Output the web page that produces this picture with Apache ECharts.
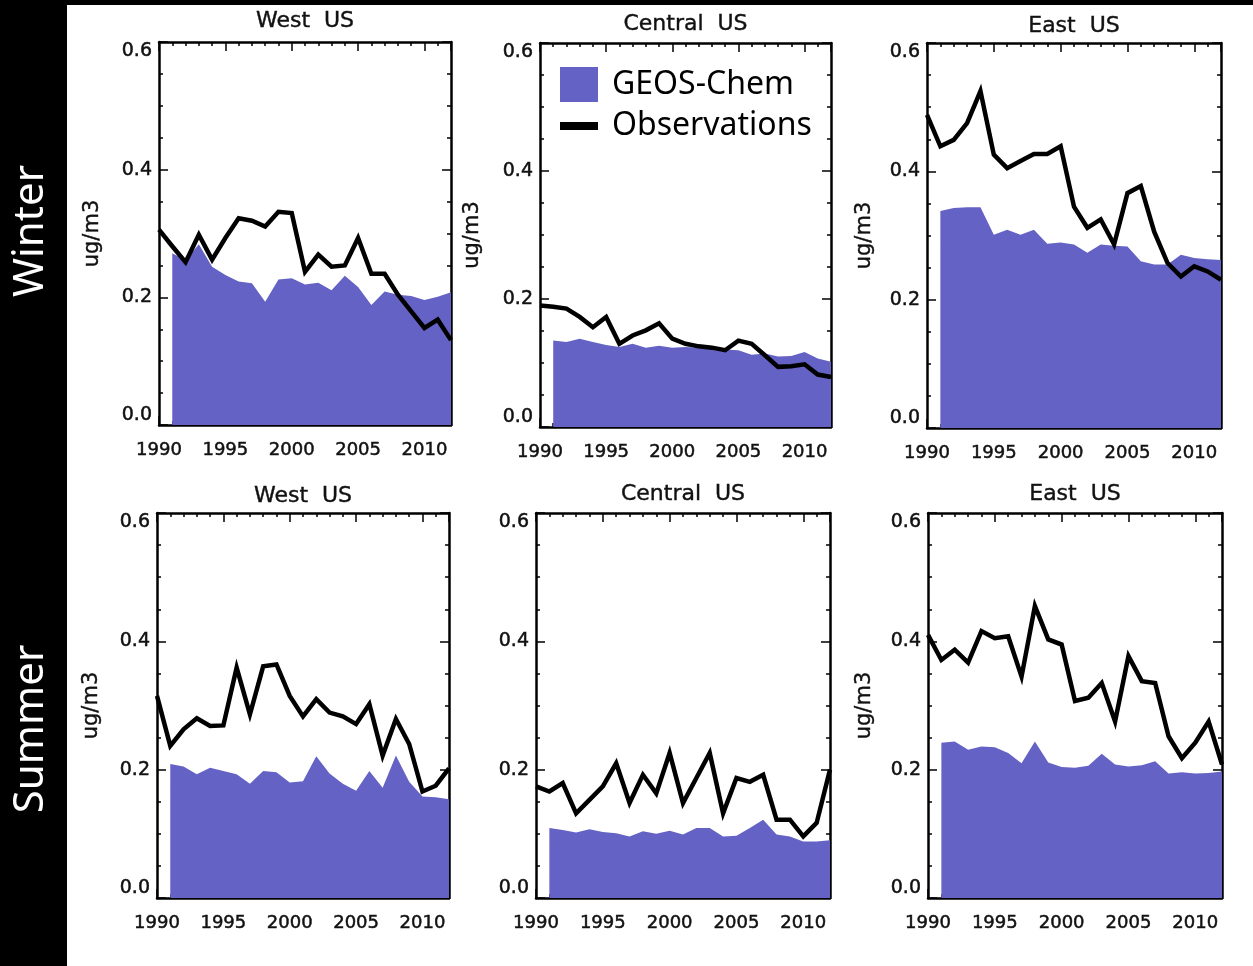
<!DOCTYPE html>
<html><head><meta charset="utf-8">
<script src="https://cdn.jsdelivr.net/npm/echarts@6/dist/echarts.min.js"></script>
<style>html,body{margin:0;padding:0;background:#fff;}#c{width:1253px;height:966px;}</style>
</head><body><div id="c"></div>
<script>
// ---------------- data ----------------
const years = [1990,1991,1992,1993,1994,1995,1996,1997,1998,1999,2000,2001,2002,2003,2004,2005,2006,2007,2008,2009,2010,2011,2012];
const modelYears = [1991,1992,1993,1994,1995,1996,1997,1998,1999,2000,2001,2002,2003,2004,2005,2006,2007,2008,2009,2010,2011,2012];
const regionTitles = ['West  US', 'Central  US', 'East  US'];
const seasonLabels = ['Winter', 'Summer'];
const legendNames = ['GEOS-Chem', 'Observations'];
const unitLabel = 'ug/m3';

const winterWestObs   = [0.306,0.280,0.255,0.298,0.259,0.293,0.324,0.320,0.311,0.334,0.332,0.240,0.267,0.248,0.250,0.293,0.237,0.237,0.204,0.178,0.152,0.165,0.133];
const winterWestModel = [0.269,0.258,0.283,0.248,0.235,0.225,0.222,0.193,0.228,0.230,0.220,0.223,0.211,0.234,0.216,0.188,0.209,0.204,0.202,0.196,0.201,0.208];

const winterCentralObs   = [0.190,0.188,0.185,0.172,0.156,0.172,0.130,0.143,0.151,0.162,0.138,0.130,0.126,0.124,0.120,0.135,0.130,0.112,0.094,0.095,0.098,0.082,0.078];
const winterCentralModel = [0.135,0.133,0.138,0.133,0.128,0.125,0.130,0.124,0.127,0.124,0.125,0.124,0.122,0.121,0.120,0.113,0.115,0.110,0.111,0.117,0.107,0.102];

const winterEastObs   = [0.488,0.439,0.449,0.475,0.525,0.426,0.405,0.416,0.427,0.427,0.439,0.345,0.312,0.325,0.286,0.366,0.377,0.306,0.257,0.236,0.252,0.244,0.231];
const winterEastModel = [0.338,0.343,0.344,0.344,0.301,0.309,0.301,0.309,0.287,0.289,0.286,0.273,0.286,0.284,0.283,0.260,0.255,0.255,0.270,0.265,0.263,0.262];

const summerWestObs   = [0.315,0.237,0.263,0.280,0.268,0.269,0.359,0.286,0.361,0.364,0.315,0.283,0.310,0.289,0.283,0.271,0.302,0.222,0.279,0.240,0.166,0.175,0.202];
const summerWestModel = [0.209,0.205,0.193,0.203,0.198,0.193,0.178,0.198,0.196,0.180,0.182,0.221,0.194,0.178,0.167,0.198,0.172,0.222,0.181,0.158,0.157,0.154];

const summerCentralObs   = [0.174,0.166,0.179,0.132,0.153,0.174,0.210,0.148,0.192,0.163,0.226,0.148,0.187,0.226,0.132,0.187,0.181,0.192,0.122,0.122,0.096,0.117,0.200];
const summerCentralModel = [0.109,0.106,0.102,0.107,0.103,0.101,0.096,0.104,0.100,0.105,0.099,0.109,0.109,0.096,0.097,0.109,0.122,0.099,0.096,0.088,0.088,0.090];

const summerEastObs   = [0.410,0.371,0.387,0.367,0.416,0.405,0.408,0.345,0.455,0.403,0.395,0.307,0.312,0.335,0.275,0.377,0.338,0.335,0.252,0.218,0.242,0.275,0.208];
const summerEastModel = [0.242,0.244,0.231,0.236,0.235,0.226,0.210,0.244,0.211,0.204,0.203,0.206,0.225,0.208,0.205,0.207,0.213,0.194,0.196,0.194,0.195,0.197];

// ---------------- layout / style ----------------
const FILL = '#6562C5';
const panels = [
  {title: regionTitles[0], obs: winterWestObs,    model: winterWestModel,    left: 159, top: 42,  width: 292, height: 383, tTop: 10,  showName: true,  nameGap: 56},
  {title: regionTitles[1], obs: winterCentralObs, model: winterCentralModel, left: 540, top: 43,  width: 291, height: 384, tTop: 13,  showName: true,  nameGap: 57},
  {title: regionTitles[2], obs: winterEastObs,    model: winterEastModel,    left: 927, top: 43,  width: 294, height: 385, tTop: 15,  showName: true,  nameGap: 52},
  {title: regionTitles[0], obs: summerWestObs,    model: summerWestModel,    left: 157, top: 513, width: 292, height: 385, tTop: 485, showName: true,  nameGap: 55},
  {title: regionTitles[1], obs: summerCentralObs, model: summerCentralModel, left: 536, top: 513, width: 294, height: 385, tTop: 483, showName: false, nameGap: 55},
  {title: regionTitles[2], obs: summerEastObs,    model: summerEastModel,    left: 928, top: 513, width: 294, height: 385, tTop: 483, showName: true,  nameGap: 53}
];

const AX = {color: '#000', width: 2.5};
const LABEL_FONT = 'DejaVu Sans';
const TXT = '#111';

const grid = [], xAxis = [], yAxis = [], series = [], title = [];
panels.forEach((p, i) => {
  grid.push({left: p.left, top: p.top, width: p.width, height: p.height, containLabel: false});
  title.push({
    text: p.title, left: p.left + p.width / 2, top: p.tTop, textAlign: 'center', padding: 0,
    textStyle: {fontFamily: LABEL_FONT, fontSize: 22, fontWeight: 'normal', color: TXT, textBorderColor: TXT, textBorderWidth: 0.4}
  });
  const xCommon = {
    type: 'value', gridIndex: i, min: 1990, max: 2012, interval: 5,
    axisLine: {show: true, onZero: false, lineStyle: AX},
    axisTick: {show: true, inside: true, length: 9, lineStyle: {color: '#000', width: 1.5}},
    minorTick: {show: true, splitNumber: 5, length: 4, lineStyle: {color: '#000', width: 1.5}},
    splitLine: {show: false}
  };
  xAxis.push(Object.assign({}, xCommon, {
    position: 'bottom',
    axisLabel: {show: true, margin: 16, showMaxLabel: false, fontFamily: LABEL_FONT, fontSize: 18, color: TXT,
      textBorderColor: TXT, textBorderWidth: 0.5,
      formatter: v => (v % 5 === 0 ? String(v) : '')}
  }));
  xAxis.push(Object.assign({}, xCommon, {position: 'top', axisLabel: {show: false}}));
  const yCommon = {
    type: 'value', gridIndex: i, min: 0, max: 0.6, interval: 0.2,
    axisLine: {show: true, onZero: false, lineStyle: AX},
    axisTick: {show: true, inside: true, length: 9, lineStyle: {color: '#000', width: 1.5}},
    minorTick: {show: true, splitNumber: 4, length: 4, lineStyle: {color: '#000', width: 1.5}},
    splitLine: {show: false}
  };
  yAxis.push(Object.assign({}, yCommon, {
    position: 'left',
    name: p.showName ? unitLabel : '', nameLocation: 'middle', nameRotate: 90, nameGap: p.nameGap,
    nameTextStyle: {fontFamily: LABEL_FONT, fontSize: 21, color: TXT, textBorderColor: TXT, textBorderWidth: 0.4},
    axisLabel: {show: true, margin: 7, fontFamily: LABEL_FONT, fontSize: 19, color: TXT,
      textBorderColor: TXT, textBorderWidth: 0.5,
      verticalAlignMinLabel: 'bottom', verticalAlignMaxLabel: 'top',
      formatter: v => v.toFixed(1)}
  }));
  yAxis.push(Object.assign({}, yCommon, {position: 'right', axisLabel: {show: false}}));

  series.push({
    name: legendNames[0], type: 'line', xAxisIndex: 2 * i, yAxisIndex: 2 * i,
    data: modelYears.map((y, k) => [y, p.model[k]]),
    symbol: 'none', lineStyle: {width: 0}, itemStyle: {color: FILL},
    areaStyle: {color: FILL, opacity: 1}, z: 2, silent: true
  });
  series.push({
    name: legendNames[1], type: 'line', xAxisIndex: 2 * i, yAxisIndex: 2 * i,
    data: years.map((y, k) => [y, p.obs[k]]),
    symbol: 'none', lineStyle: {width: 4.5, color: '#000', join: 'miter'}, itemStyle: {color: '#000'},
    z: 3, silent: true
  });
});

const legendText = {fontFamily: 'Noto Sans', fontSize: 32, color: '#000', padding: [0, 0, 0, 9]};
const option = {
  animation: false,
  backgroundColor: '#fff',
  title: title,
  grid: grid, xAxis: xAxis, yAxis: yAxis, series: series,
  legend: [
    {data: [{name: legendNames[0], icon: 'rect'}], left: 560, top: 67, padding: 0, itemWidth: 38, itemHeight: 35,
     itemStyle: {color: FILL, borderWidth: 0}, textStyle: legendText, selectedMode: false},
    {data: [{name: legendNames[1], icon: 'rect'}], left: 560, top: 110, padding: 0, itemWidth: 38, itemHeight: 8,
     itemStyle: {color: '#000', borderWidth: 0}, textStyle: Object.assign({}, legendText, {padding: [0, 0, 4, 9]}), selectedMode: false}
  ],
  graphic: [
    {type: 'rect', left: 0, top: 0, shape: {width: 67, height: 966}, style: {fill: '#000'}, z: 100},
    {type: 'rect', left: 0, top: 0, shape: {width: 1253, height: 5}, style: {fill: '#000'}, z: 100},
    {type: 'text', x: 31, y: 231, rotation: Math.PI / 2, z: 101,
     style: {text: seasonLabels[0], fill: '#fff', font: '42px "Noto Sans"', textAlign: 'center', textVerticalAlign: 'middle'}},
    {type: 'text', x: 31, y: 729, rotation: Math.PI / 2, z: 101,
     style: {text: seasonLabels[1], fill: '#fff', font: '42px "Noto Sans"', textAlign: 'center', textVerticalAlign: 'middle'}}
  ]
};
const chart = echarts.init(document.getElementById('c'), null, {renderer: 'canvas'});
chart.setOption(option);
</script>
</body></html>
